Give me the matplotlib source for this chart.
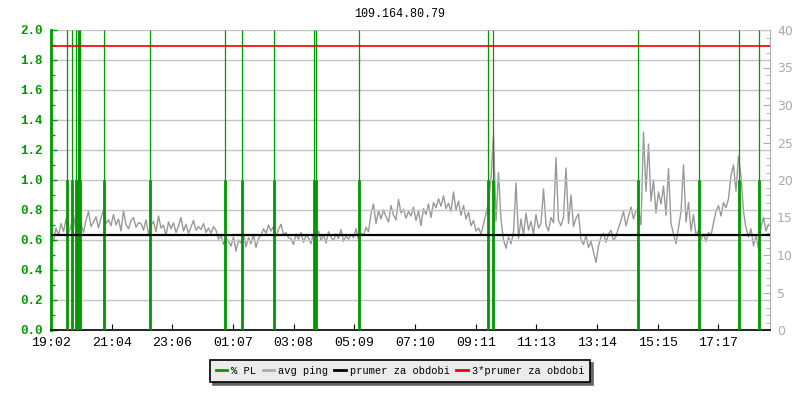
"""Ping / packet loss graph for 109.164.80.79 (24h window)."""
import numpy as np
import matplotlib
matplotlib.use("Agg")
import matplotlib.pyplot as plt
from matplotlib.lines import Line2D

TITLE = "109.164.80.79"
SPAN_MIN = 1438                      # whole window, minutes
TICK_STEP = 121.36
tick_labels = ["19:02", "21:04", "23:06", "01:07", "03:08", "05:09",
               "07:10", "09:11", "11:13", "13:14", "15:15", "17:17"]

# avg ping [ms], one sample every 5 min, one row per hour
ping_ms = [
    13.4, 11.8, 13.6, 12.6, 14.2, 13.1, 14.8, 12.9, 13.9, 15.3, 13.2, 14.5,
    14.1, 13.0, 14.6, 15.8, 13.8, 14.4, 15.1, 13.6, 14.9, 16.1, 14.2, 14.7,
    13.9, 15.4, 14.0, 14.8, 13.2, 15.9, 14.1, 13.5, 14.6, 15.0, 13.7, 14.3,
    14.2, 13.3, 14.7, 12.8, 13.9, 14.5, 13.1, 15.2, 13.6, 14.0, 12.6, 14.4,
    13.5, 14.3, 13.0, 13.9, 15.0, 13.2, 14.1, 12.9, 13.7, 14.6, 13.3, 13.8,
    13.4, 14.2, 13.0, 13.6, 12.9, 13.8, 13.3, 12.1, 12.6, 11.4, 12.3, 11.8,
    11.2, 12.4, 10.5, 12.0, 11.6, 12.8, 11.1, 12.3, 11.5, 12.7, 11.0, 12.2,
    12.6, 13.5, 12.9, 14.0, 13.2, 13.8, 12.5, 13.4, 14.1, 12.7, 13.0, 12.3,
    12.2, 11.4, 12.8, 12.1, 13.0, 11.7, 12.6, 12.3, 11.5, 12.9, 12.4, 13.2,
    12.0, 12.7, 11.6, 13.1, 12.4, 11.9, 12.8, 12.2, 13.4, 11.8, 12.5, 12.1,
    12.7, 12.3, 13.5, 12.0, 12.9, 12.6, 13.7, 13.1, 15.5, 16.8, 14.2, 15.9,
    14.8, 16.0, 15.1, 14.4, 16.6, 15.3, 14.7, 17.4, 15.6, 16.1, 14.9, 15.8,
    15.2, 16.4, 14.6, 15.9, 13.9, 16.2, 15.4, 16.8, 15.0, 17.0, 16.3, 17.5,
    16.5, 17.9, 16.2, 16.9, 15.8, 18.4, 16.0, 17.2, 15.3, 16.6, 14.8, 15.7,
    13.9, 14.6, 13.2, 13.6, 12.8, 14.1, 15.5, 17.0, 20.3, 26.0, 14.5, 21.0,
    14.8, 12.0, 10.9, 12.4, 11.5, 13.0, 19.6, 12.2, 14.8, 12.6, 15.6, 13.3,
    14.5, 12.8, 15.4, 13.6, 14.2, 18.8, 14.0, 13.2, 15.0, 14.3, 23.0, 14.6,
    13.9, 15.0, 21.6, 14.2, 18.0, 13.8, 14.9, 15.5, 12.0, 11.4, 12.6, 11.0,
    11.8, 10.4, 9.0, 11.2, 12.4, 12.9, 11.7, 12.8, 13.3, 11.9, 12.5, 13.6,
    14.6, 15.8, 13.9, 15.2, 16.4, 14.8, 15.9, 16.2, 14.0, 26.4, 18.5, 24.8,
    17.2, 20.0, 15.6, 18.4, 16.8, 19.2, 15.3, 21.5, 14.2, 12.8, 11.5, 13.6,
    15.8, 22.0, 14.4, 17.0, 13.2, 15.4, 12.6, 13.3, 12.0, 12.8, 11.8, 13.0,
    12.6, 14.3, 15.8, 16.6, 15.2, 17.0, 16.3, 17.5, 20.6, 22.0, 18.5, 23.2,
    20.5, 15.8, 13.6, 12.4, 13.5, 11.2, 12.6, 10.8, 13.8, 15.0, 13.2, 14.1,
]
ping_min = np.arange(len(ping_ms)) * 5.0

# packet loss events [minutes from start], % PL
pl_min = [32, 42, 50, 54, 56, 58, 106, 197, 348, 382, 446, 525, 530, 616,
          874, 884, 1174, 1296, 1376, 1416]
pl_pct = [1.0] * len(pl_min)

mean_ping = 12.62          # prumer za obdobi [ms]
PL_MAX, PING_MAX = 2.0, 40

GREEN = "#009900"
GRAY = "#999999"
MONO = "Liberation Mono"

fig = plt.figure(figsize=(8, 4), dpi=100)
ax = fig.add_axes([51 / 800, 70 / 400, 719 / 800, 300 / 400])
ax2 = ax.twinx()
ax.set_zorder(ax2.get_zorder() + 1)
ax.patch.set_visible(False)

# ping on the right scale
ax2.plot(ping_min, ping_ms, color=GRAY, lw=1)
ax2.set_ylim(0, PING_MAX)

# loss bars + off-scale spikes, mean lines on the left scale
ax.vlines(pl_min, 0, PL_MAX, color=GREEN, lw=0.9, zorder=3)
ax.vlines(pl_min, 0, pl_pct, color=GREEN, lw=2.0, zorder=3)
ax.axhline(mean_ping / 20, color="black", lw=1.6, zorder=4)
ax.axhline(3 * mean_ping / 20, color="#ee0000", lw=1.2, zorder=4)

ax.set_xlim(0, SPAN_MIN)
ax.set_ylim(0, PL_MAX)
ax.set_yticks(np.arange(0, 2.01, 0.2))
ax.set_yticks(np.arange(0, 2.01, 0.1), minor=True)
ax.set_yticklabels([f"{v:.1f}" for v in np.arange(0, 2.01, 0.2)])
ax.yaxis.grid(True, color="#c4c4c4", lw=1, zorder=0)
ax.set_xticks(np.arange(len(tick_labels)) * TICK_STEP)
ax.set_xticklabels(tick_labels)

for sp in ("top", "right"):
    ax.spines[sp].set_visible(False)
ax.spines["left"].set_color(GREEN)
ax.spines["left"].set_linewidth(2)
ax.spines["bottom"].set_linewidth(1.2)
ax.tick_params(axis="y", which="both", direction="in", colors=GREEN,
               labelsize=9, pad=6)
ax.tick_params(axis="y", which="major", length=4, width=1)
ax.tick_params(axis="y", which="minor", length=3, width=1)
ax.tick_params(axis="x", direction="in", length=4, labelsize=9.5, pad=5)
for t in ax.get_yticklabels():
    t.set_fontfamily(MONO)
    t.set_fontweight("bold")
for t in ax.get_xticklabels():
    t.set_fontfamily(MONO)

ax2.set_yticks(np.arange(0, 41, 5))
ax2.set_yticks(np.arange(0, 41, 1), minor=True)
for sp in ("top", "left", "bottom"):
    ax2.spines[sp].set_visible(False)
ax2.spines["right"].set_color("#aaaaaa")
ax2.tick_params(axis="y", which="both", direction="in", colors="#aaaaaa",
                labelsize=9, pad=5)
ax2.tick_params(axis="y", which="major", length=5)
ax2.tick_params(axis="y", which="minor", length=3)

fig.text(0.5, 1 - 14 / 400, TITLE, ha="center", va="center",
         fontsize=8.5, family=MONO)

handles = [Line2D([], [], color=GREEN, lw=2),
           Line2D([], [], color="#aaaaaa", lw=2),
           Line2D([], [], color="black", lw=2),
           Line2D([], [], color="#ee0000", lw=2)]
labels = ["% PL", "avg ping", "prumer za obdobi", "3*prumer za obdobi"]
leg = fig.legend(handles, labels, loc="center", ncol=4,
                 bbox_to_anchor=(400 / 800, 1 - 371 / 400),
                 prop={"family": MONO, "size": 7.5},
                 handlelength=1.1, handletextpad=0.4, columnspacing=0.6,
                 borderpad=0.55, fancybox=False, frameon=True,
                 shadow={"color": "#666666", "alpha": 1})
leg.get_frame().set_facecolor("#ebebeb")
leg.get_frame().set_edgecolor("black")
leg.get_frame().set_linewidth(1.2)
leg.get_frame().set_alpha(1)

fig.savefig("out.png", dpi=100)
